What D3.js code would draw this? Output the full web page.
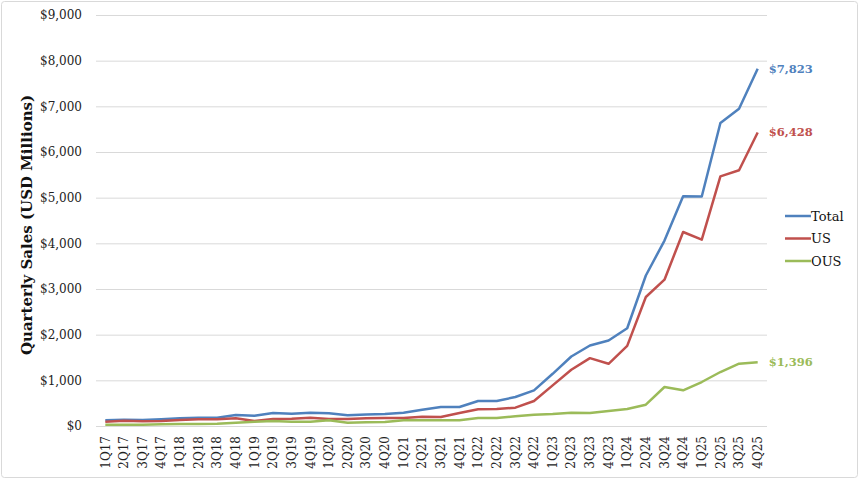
<!DOCTYPE html>
<html>
<head>
<meta charset="utf-8">
<script src="https://cdn.jsdelivr.net/npm/d3@7"></script>
<style>
  body { margin: 0; background: #fff; }
  svg { display: block; }
</style>
</head>
<body>
<svg id="chart" width="860" height="483"></svg>
<script>
var quarters = ["1Q17","2Q17","3Q17","4Q17","1Q18","2Q18","3Q18","4Q18",
    "1Q19","2Q19","3Q19","4Q19","1Q20","2Q20","3Q20","4Q20",
    "1Q21","2Q21","3Q21","4Q21","1Q22","2Q22","3Q22","4Q22",
    "1Q23","2Q23","3Q23","4Q23","1Q24","2Q24","3Q24","4Q24",
    "1Q25","2Q25","3Q25","4Q25"];

var totalSales = [124,139,131,146,168,182,182,241,226,285,270,292,277,234,250,262,
    292,358,416,416,547,547,635,781,1143,1522,1763,1872,2140,3295,4060,5030,
    5025,6635,6949,7823];
var usSales = [95,117,102,110,131,146,146,168,110,153,161,182,153,153,168,175,
    175,204,197,285,365,372,401,547,889,1231,1486,1362,1755,2825,3204,4248,
    4080,5467,5599,6428];
var ousSales = [29,29,29,36,44,44,51,73,95,110,95,95,124,73,80,88,
    124,124,124,124,175,175,212,248,262,291,284,328,372,467,854,781,
    963,1182,1365,1396];

var yTicks = [0,1000,2000,3000,4000,5000,6000,7000,8000,9000];
var endLabels = ["$7,823", "$6,428", "$1,396"];

var series = [
    { name: "Total", values: totalSales, color: "#4f81bd", label: endLabels[0] },
    { name: "US", values: usSales, color: "#c0504d", label: endLabels[1] },
    { name: "OUS", values: ousSales, color: "#9bbb59", label: endLabels[2] }
];

var font = "'DejaVu Serif', serif";
var svg = d3.select("#chart");

// outer frame
svg.append("rect")
    .attr("x", 1.5).attr("y", 1.5)
    .attr("width", 856).attr("height", 476)
    .attr("rx", 3)
    .attr("fill", "#fff")
    .attr("stroke", "#d9d9d9");

var plotLeft = 96, plotRight = 767, plotTop = 15, plotBottom = 426;

var x = d3.scaleBand()
    .domain(quarters)
    .range([plotLeft, plotRight]);

var y = d3.scaleLinear()
    .domain([0, 9000])
    .range([plotBottom, plotTop]);

// gridlines
svg.append("g")
    .selectAll("line")
    .data(yTicks)
    .enter().append("line")
    .attr("x1", plotLeft)
    .attr("x2", plotRight)
    .attr("y1", d => y(d) + 0.5)
    .attr("y2", d => y(d) + 0.5)
    .attr("stroke", "#d9d9d9")
    .attr("stroke-width", 1);

// y axis labels
var yAxis = svg.append("g")
    .attr("transform", "translate(" + plotLeft + ",0)")
    .call(d3.axisLeft(y)
        .tickValues(yTicks)
        .tickSize(0)
        .tickPadding(14)
        .tickFormat(d => "$" + d3.format(",")(d)));
yAxis.select(".domain").remove();
yAxis.selectAll("text")
    .attr("font-family", font)
    .attr("font-size", 12)
    .attr("fill", "#222");

// x axis labels
var xAxis = svg.append("g")
    .attr("transform", "translate(0," + plotBottom + ")")
    .call(d3.axisBottom(x).tickSize(0).tickPadding(0));
xAxis.select(".domain").remove();
xAxis.selectAll("text")
    .attr("font-family", font)
    .attr("font-size", 12)
    .attr("fill", "#222")
    .attr("transform", "rotate(-90)")
    .attr("text-anchor", "end")
    .attr("x", -10)
    .attr("y", 0)
    .attr("dy", "0.35em");

// axis title
svg.append("text")
    .attr("transform", "translate(27,225) rotate(-90)")
    .attr("text-anchor", "middle")
    .attr("dy", "0.35em")
    .attr("font-family", font)
    .attr("font-size", 15)
    .attr("font-weight", "bold")
    .attr("fill", "#111")
    .text("Quarterly Sales (USD Millions)");

var line = d3.line()
    .x((d, i) => x(quarters[i]) + x.bandwidth() / 2)
    .y(d => y(d));

svg.append("g")
    .selectAll("path")
    .data(series)
    .enter().append("path")
    .attr("d", d => line(d.values))
    .attr("fill", "none")
    .attr("stroke", d => d.color)
    .attr("stroke-width", 2.5)
    .attr("stroke-linejoin", "round");

// end labels
var last = quarters.length - 1;
svg.append("g")
    .selectAll("text")
    .data(series)
    .enter().append("text")
    .attr("x", x(quarters[last]) + x.bandwidth() / 2 + 11)
    .attr("y", d => y(d.values[last]))
    .attr("dy", "0.35em")
    .attr("font-family", font)
    .attr("font-size", 11.5)
    .attr("font-weight", "bold")
    .attr("fill", d => d.color)
    .text(d => d.label);

// legend
var legend = svg.append("g")
    .selectAll("g")
    .data(series)
    .enter().append("g")
    .attr("transform", (d, i) => "translate(785," + (216 + i * 22.5) + ")");
legend.append("line")
    .attr("x1", 0).attr("x2", 26)
    .attr("stroke", d => d.color)
    .attr("stroke-width", 2.5);
legend.append("text")
    .attr("x", 26)
    .attr("dy", "0.35em")
    .attr("font-family", font)
    .attr("font-size", 13)
    .attr("fill", "#111")
    .text(d => d.name);
</script>
</body>
</html>
